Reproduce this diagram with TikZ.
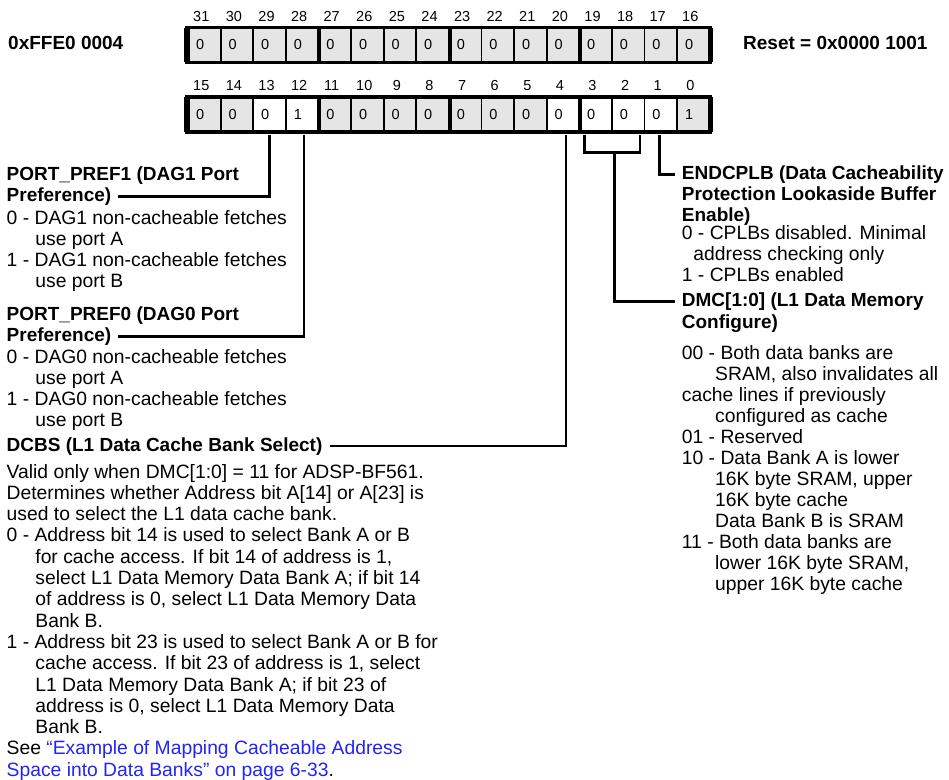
\documentclass[tikz,border=0pt]{standalone}
\usepackage{fontspec}
\setmainfont{Liberation Sans}
\usetikzlibrary{positioning}
\definecolor{cellgray}{gray}{0.9}
\definecolor{linkblue}{RGB}{35,35,245}
\newcommand{\contline}{\hspace*{28.7pt}}
\tikzset{
    cell/.style={
        draw,
        line width=1.8pt,
        fill=cellgray,
        minimum width=32.6pt,
        minimum height=33pt,
        text width=16.6pt,
        inner xsep=8pt,
        inner ysep=0pt,
        align=left,
        font=\fontsize{14.5}{15}\selectfont
    },
    bitnum/.style={inner sep=0pt, font=\fontsize{14.5}{15}\selectfont},
    head/.style={anchor=base west, inner sep=0pt, align=left,
        font=\fontsize{19}{21.5}\selectfont\bfseries},
    body/.style={anchor=base west, inner sep=0pt, align=left,
        font=\fontsize{19.3}{21.3}\selectfont},
    bodyr/.style={body, font=\fontsize{19.3}{21}\selectfont},
    frame/.style={line width=3.7pt},
    leader/.style={line width=2.6pt, shorten >=7pt}
}

\begin{document}
\begin{tikzpicture}[x=1pt, y=-1pt]
    \useasboundingbox (0,0) rectangle (949,779);

    % Registro
    \foreach \b [count=\i from 0] in {31,...,16}
        \node[cell] (b\b) at ({188+(\i+0.5)*32.6}, 45) {0};
    \foreach \b/\v/\c [count=\i from 0] in {15/0/cellgray, 14/0/cellgray,
            13/0/white, 12/1/white, 11/0/cellgray, 10/0/cellgray,
            9/0/cellgray, 8/0/cellgray, 7/0/cellgray, 6/0/cellgray,
            5/0/cellgray, 4/0/white, 3/0/white, 2/0/white, 1/0/white,
            0/1/cellgray}
        \node[cell, fill=\c] (b\b) at ({188+(\i+0.5)*32.6}, 114.3) {\v};
    \foreach \b in {0,...,31}
        \node[bitnum, above=6pt of b\b, xshift=-3pt] (n\b) {\b};

    \foreach \r/\l in {31/16, 15/0} {
        \draw[frame] (b\r.north west) rectangle (b\l.south east);
        \draw[line width=6pt] (b\r.north west) -- (b\r.south west);
        \draw[line width=5pt] (b\l.north east) -- (b\l.south east);
    }
    \foreach \b in {28, 24, 20, 12, 8, 4}
        \draw[line width=4.3pt] (b\b.north east) -- (b\b.south east);

    \node[head] (addr)  at (8, 49.3)   {0xFFE0 0004};
    \node[head] (reset) at (743, 49.3) {Reset = 0x0000 1001};

    % Campos, izquierda (base = ultima linea)
    \node[head] (pp1)  at (6.5, 180)   {PORT\_PREF1 (DAG1 Port};
    \node[head] (pp1b) at (6.5, 201.5) {Preference)};
    \node[body] (pp1txt) at (6.5, 287.9) {0 - DAG1 non-cacheable fetches\\
        \contline use port A\\
        1 - DAG1 non-cacheable fetches\\
        \contline use port B};

    \node[head] (pp0)  at (6.5, 320)   {PORT\_PREF0 (DAG0 Port};
    \node[head] (pp0b) at (6.5, 341.5) {Preference)};
    \node[body] (pp0txt) at (6.5, 426.9) {0 - DAG0 non-cacheable fetches\\
        \contline use port A\\
        1 - DAG0 non-cacheable fetches\\
        \contline use port B};

    \node[head] (dcbs) at (6.5, 451) {DCBS (L1 Data Cache Bank Select)};
    \node[body] (dcbstxt) at (6.5, 776.2) {Valid only when DMC[1:0] = 11 for ADSP-BF561.\\
        Determines whether Address bit A[14] or A[23] is\\
        used to select the L1 data cache bank.\\
        0 - Address bit 14 is used to select Bank A or B\\
        \contline for cache access. If bit 14 of address is 1,\\
        \contline select L1 Data Memory Data Bank A; if bit 14\\
        \contline of address is 0, select L1 Data Memory Data\\
        \contline Bank B.\\
        1 - Address bit 23 is used to select Bank A or B for\\
        \contline cache access. If bit 23 of address is 1, select\\
        \contline L1 Data Memory Data Bank A; if bit 23 of\\
        \contline address is 0, select L1 Data Memory Data\\
        \contline Bank B.\\
        See \textcolor{linkblue}{“Example of Mapping Cacheable Address}\\
        \textcolor{linkblue}{Space into Data Banks” on page 6-33}.};

    % Campos, derecha
    \node[head] (endc)  at (681.7, 179.3) {ENDCPLB (Data Cacheability};
    \node[head] (endcb) at (681.7, 221.5) {Protection Lookaside Buffer\\Enable)};
    \node[bodyr] (endctxt) at (681.7, 281.3) {0 - CPLBs disabled. Minimal\\
        \hspace*{11.5pt}address checking only\\
        1 - CPLBs enabled};

    \node[head] (dmc)  at (681.7, 306.7) {DMC[1:0] (L1 Data Memory};
    \node[head] (dmcb) at (681.7, 328)   {Configure)};
    \node[bodyr] (dmctxt) at (681.7, 590.3) {00 - Both data banks are\\
        \hspace*{33.3pt}SRAM, also invalidates all\\
        cache lines if previously\\
        \hspace*{33.3pt}configured as cache\\
        01 - Reserved\\
        10 - Data Bank A is lower\\
        \hspace*{33.3pt}16K byte SRAM, upper\\
        \hspace*{33.3pt}16K byte cache\\
        \hspace*{33.3pt}Data Bank B is SRAM\\
        11 - Both data banks are\\
        \hspace*{33.3pt}lower 16K byte SRAM,\\
        \hspace*{33.3pt}upper 16K byte cache};

    % Lineas
    \draw[leader] ([yshift=-3pt]b13.south) |- (pp1b.east);
    \draw[leader] ([xshift=2pt, yshift=-3pt]b12.south) |- (pp0b.east);
    \draw[leader] ([xshift=3pt, yshift=-3pt]b4.south) |- (dcbs.east);
    \draw[leader] ([xshift=-1pt, yshift=-3pt]b1.south) |- (endc.west);
    \draw[line width=2.6pt] ([xshift=-11pt, yshift=-3pt]b3.south)
        |- ([xshift=12pt, yshift=-21pt]b2.south)
        -- ([xshift=12pt, yshift=-3pt]b2.south);
    \coordinate (dmcsel) at ([xshift=1.5pt, yshift=-21pt]b3.south east);
    \draw[leader] (dmcsel) |- (dmc.west);

\end{tikzpicture}
\end{document}
